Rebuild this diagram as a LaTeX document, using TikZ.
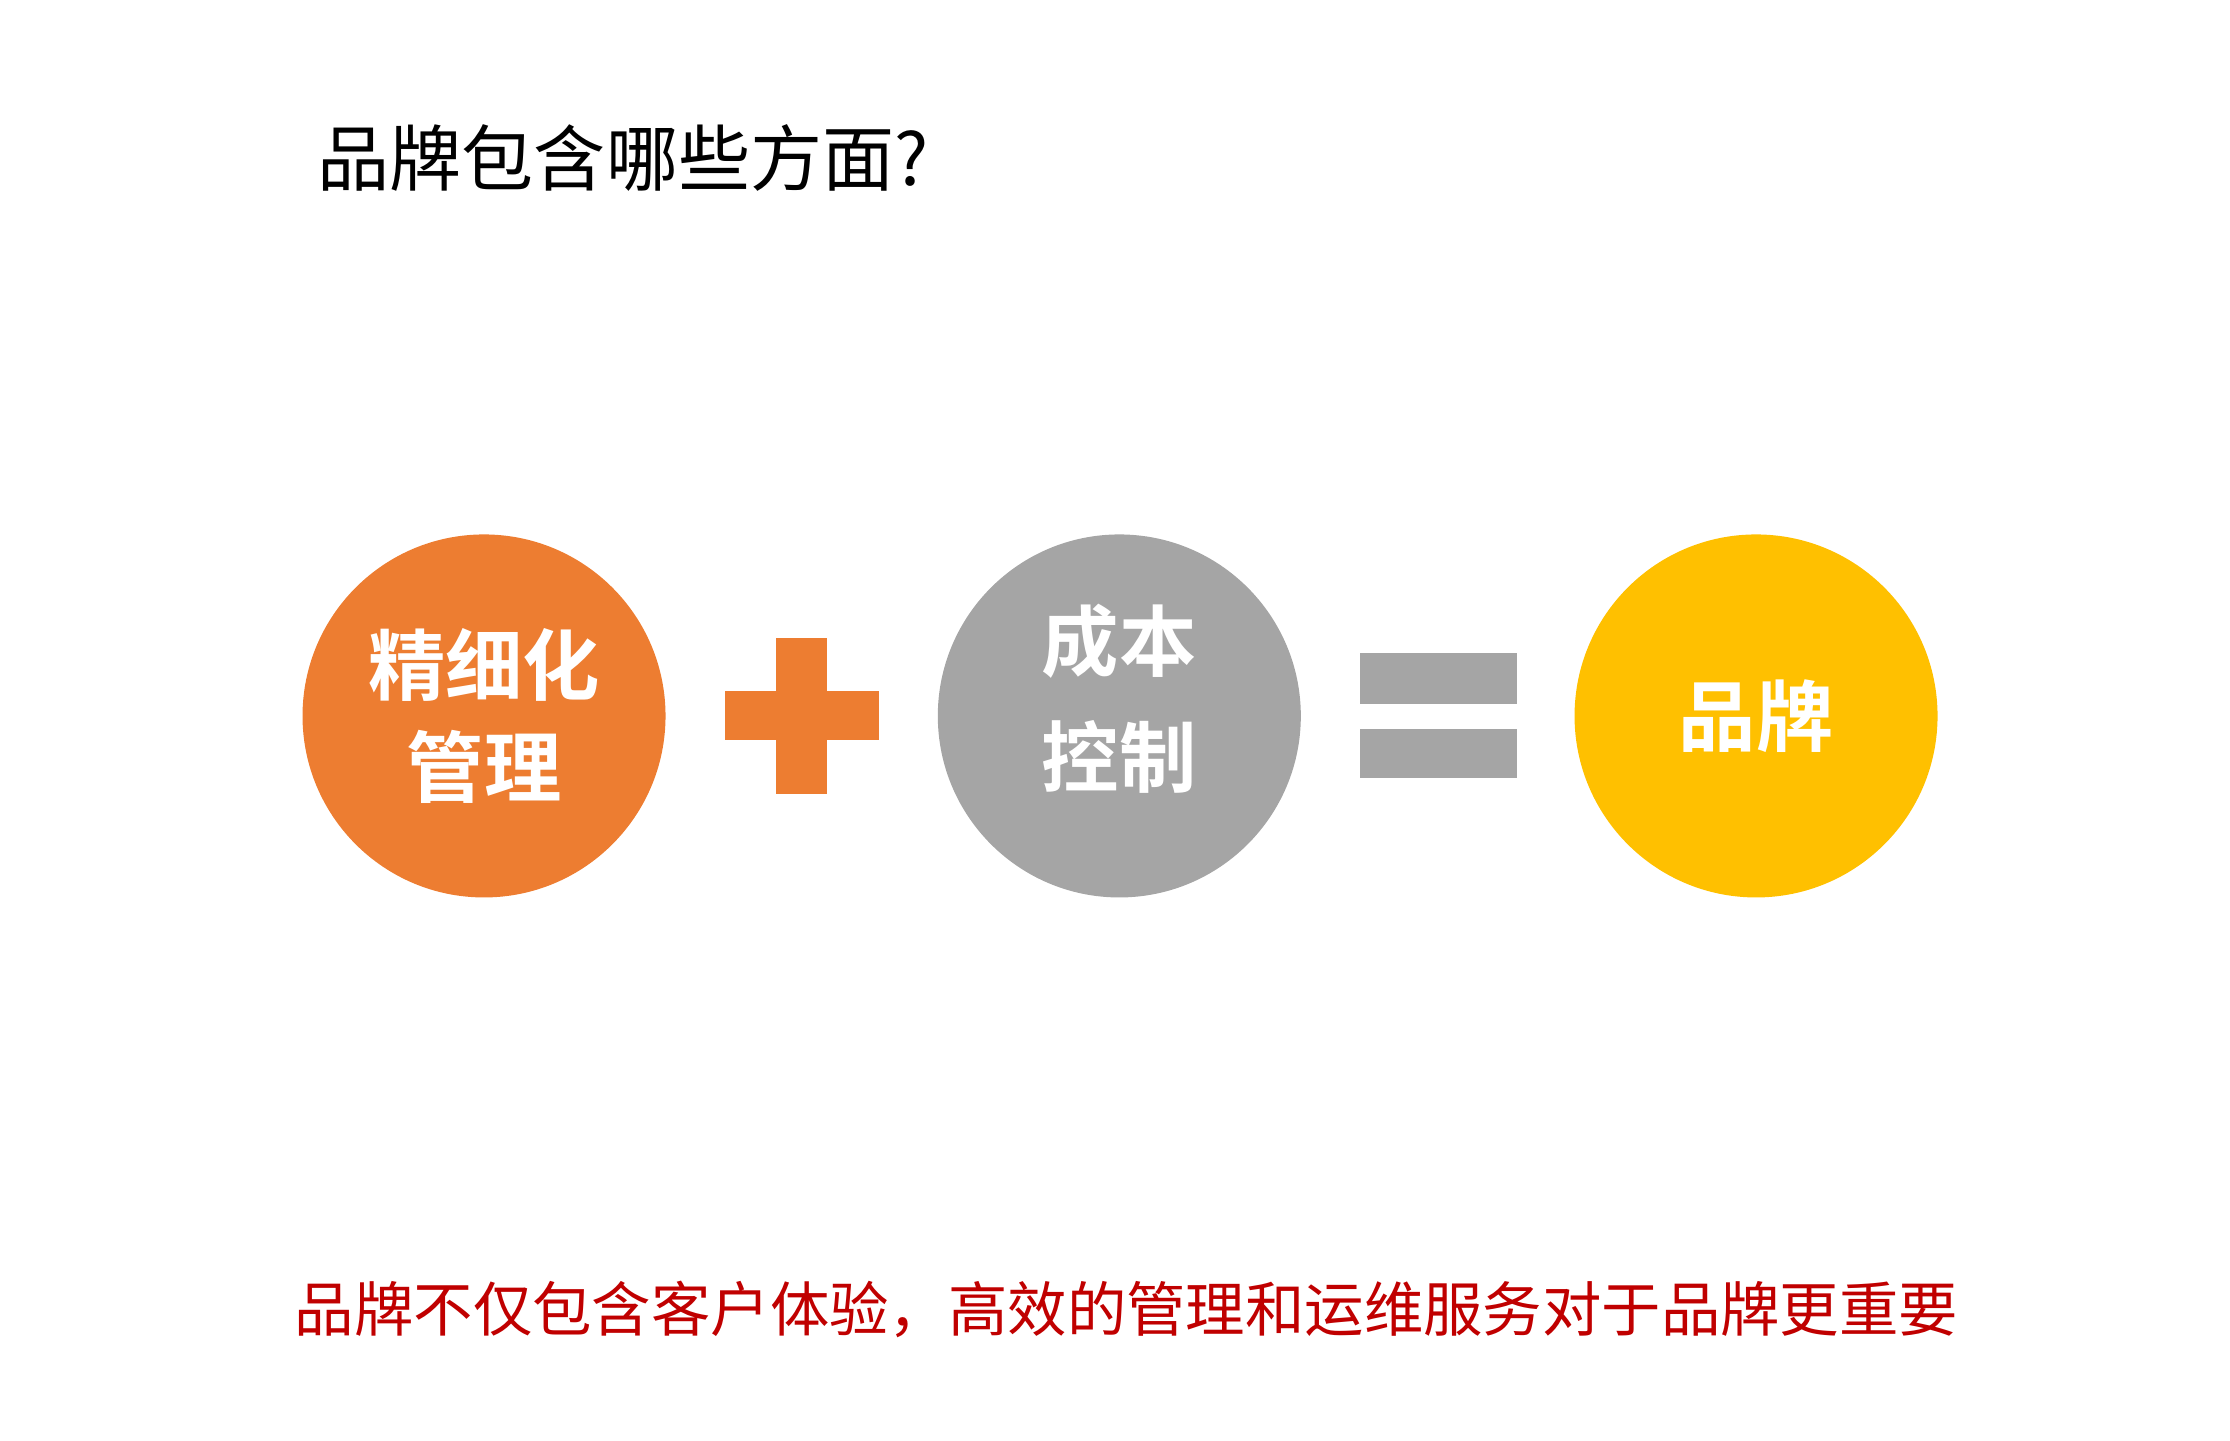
\documentclass[tikz,border=0pt]{standalone}
\usepackage{fontspec}
\newfontfamily\cjk{Noto Sans CJK SC}
\newfontfamily\cjkb{Noto Sans CJK SC Bold}
\definecolor{org}{HTML}{ED7D31}
\definecolor{gry}{HTML}{A5A5A5}
\definecolor{ylw}{HTML}{FFC000}
\definecolor{rd}{HTML}{C00000}
\begin{document}
\begin{tikzpicture}[x=0.014406cm,y=-0.014406cm,
  circ/.style={circle,minimum size=252*0.014406cm,inner sep=0pt,text=white,align=center,font=\cjkb\fontsize{22}{29}\selectfont},
  bar/.style={inner sep=0pt}]
\useasboundingbox (0,0) rectangle (1548,1000);
\node[anchor=west,font=\cjk\fontsize{20.5}{24}\selectfont] (title) at (212,110) {品牌包含哪些方面?};
\node[circ,fill=org] (a) at (336,497) {精细化\\管理};
\node[circ,fill=gry] (b) at (777,497) {};
\node[text=white,align=center,font=\cjkb\fontsize{22}{33}\selectfont] (bt) at (777,485) {成本\\控制};
\node[circ,fill=ylw] (c) at (1219,497) {品牌};
\fill[org] (539,443) rectangle (574,551);
\fill[org] (503,480) rectangle (610,514);
\fill[gry] (944,453) rectangle (1053,489);
\fill[gry] (944,506) rectangle (1053,540);
\node[anchor=center,text=rd,font=\cjk\fontsize{16.9}{20}\selectfont] (note) at (782,909) {品牌不仅包含客户体验，高效的管理和运维服务对于品牌更重要};
\end{tikzpicture}
\end{document}
